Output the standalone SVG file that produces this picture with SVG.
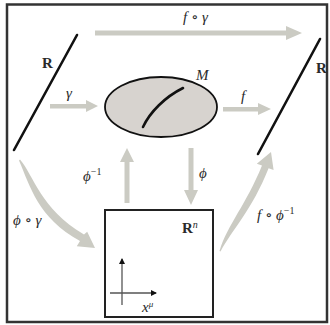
<svg xmlns="http://www.w3.org/2000/svg" width="330" height="325" viewBox="0 0 330 325">
<style>
.lbl{font-family:"Liberation Serif","DejaVu Serif",serif;font-style:italic;font-size:15px;fill:#2a2a2a}
.R{font-family:"Liberation Serif","DejaVu Serif",serif;font-weight:bold;font-size:15px;fill:#2a2a2a}
.arr{fill:#cbcbc3;stroke:none}
.axis{stroke:#555;stroke-width:1.3;fill:none}
.line{stroke:#111;stroke-width:2.6;stroke-linecap:round;fill:none}
</style>
<defs>
<marker id="ah" markerWidth="6" markerHeight="6" refX="5" refY="3" orient="auto" markerUnits="userSpaceOnUse">
<path d="M0,0 L6,3 L0,6 Z" fill="#111"/>
</marker>
</defs>
<rect x="0" y="0" width="330" height="325" fill="#fff"/>
<rect id="frame" x="7" y="4.5" width="320" height="317.5" fill="none" stroke="#333" stroke-width="2.5"/>

<g id="connectors">
<path class="arr" d="M95,30.5 L286,30.5 L286,26 L302,33 L286,40 L286,35.5 L95,35.5 Z"/>
<path class="arr" d="M50,104 L86,104 L86,100 L98,106 L86,112 L86,108.5 L50,108.5 Z"/>
<path class="arr" d="M223,107 L258,107 L258,103 L271,109 L258,115 L258,111.5 L223,111.5 Z"/>
<path class="arr" d="M124.5,203 L124.5,162 L120,162 L127,148 L134,162 L129.5,162 L129.5,203 Z"/>
<path class="arr" d="M188.5,148 L188.5,190 L184,190 L191,205 L198,190 L193.5,190 L193.5,148 Z"/>
<path class="arr" d="M20,159.5 C34,176 40,208 84,234.6 L87.2,231.7 L95,248 L76.8,246.3 L80,241 C38,218 30,186 19,160.5 Z"/>
<path class="arr" d="M219.5,251 C228,224 246,205 262,165.6 L256.8,163.7 L271,152 L273.6,170.1 L268.6,168.2 C252,210 232,230 220.5,251.5 Z"/>
</g>

<g id="R-left">
<line class="line" x1="77" y1="35" x2="14" y2="150"/>
<text class="R" x="42" y="68">R</text>
</g>

<g id="R-right">
<line class="line" x1="320" y1="39" x2="258" y2="154"/>
<text class="R" x="316" y="73">R</text>
</g>

<g id="M">
<ellipse cx="161" cy="107" rx="56" ry="30" fill="#d7d3cf" stroke="#111" stroke-width="1.8"/>
<path d="M143,127 C150,112 165,97 183,88" stroke="#111" stroke-width="2.6" fill="none" stroke-linecap="round"/>
<text class="lbl" x="196" y="80">M</text>
</g>

<g id="Rn">
<rect x="105" y="210" width="108" height="107" fill="#fff" stroke="#222" stroke-width="2"/>
<text class="R" x="182" y="233">R<tspan style="font-weight:normal;font-style:italic;font-size:10px" dy="-5">n</tspan></text>
<line class="axis" x1="122" y1="305" x2="122" y2="259" marker-end="url(#ah)"/>
<line class="axis" x1="110" y1="293" x2="156" y2="293" marker-end="url(#ah)"/>
<text class="lbl" x="142" y="312">x<tspan font-size="9" dy="-5">μ</tspan></text>
</g>

<g id="labels">
<text class="lbl" x="183" y="22">f ∘ γ</text>
<text class="lbl" x="66" y="98">γ</text>
<text class="lbl" x="241" y="101">f</text>
<text class="lbl" x="83" y="181">ϕ<tspan font-size="10" font-style="normal" dy="-6">−1</tspan></text>
<text class="lbl" x="199" y="178">ϕ</text>
<text class="lbl" x="13" y="225">ϕ ∘ γ</text>
<text class="lbl" x="257" y="220">f ∘ ϕ<tspan font-size="10" font-style="normal" dy="-6">−1</tspan></text>
</g>
</svg>
